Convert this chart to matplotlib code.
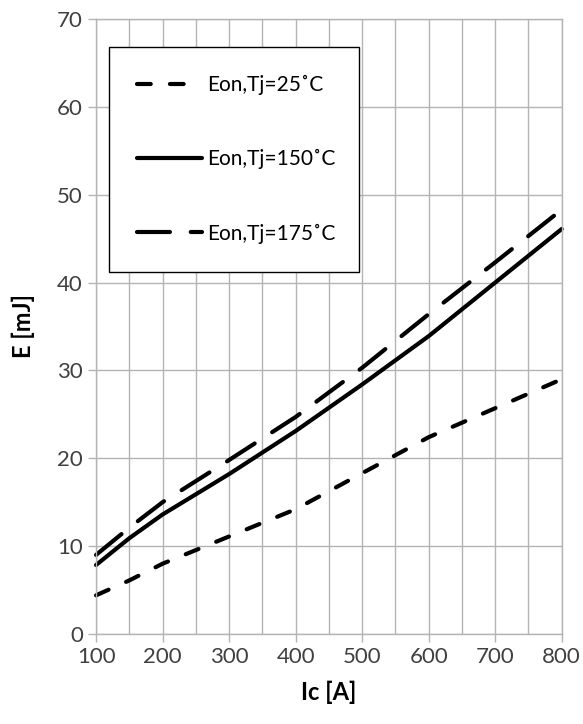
import matplotlib
matplotlib.use("Agg")
import matplotlib.pyplot as plt
from matplotlib.ticker import MultipleLocator

plt.rcParams['font.family'] = ['Lato', 'DejaVu Sans']

ic = [100, 150, 200, 300, 400, 500, 600, 700, 800]
eon_25 = [4.4, 6.1, 8.0, 11.1, 14.2, 18.3, 22.4, 25.7, 29.0]
eon_150 = [7.85, 10.9, 13.6, 18.2, 23.1, 28.4, 33.9, 40.0, 46.1]
eon_175 = [9.0, 12.1, 15.0, 19.8, 24.7, 30.3, 36.4, 42.3, 48.3]
labels = ["Eon,Tj=25˚C", "Eon,Tj=150˚C", "Eon,Tj=175˚C"]
xticks = [100, 200, 300, 400, 500, 600, 700, 800]
yticks = [0, 10, 20, 30, 40, 50, 60, 70]

fig = plt.figure(figsize=(5.83, 7.24), dpi=100)
ax = fig.add_axes([0.1647, 0.1243, 0.7988, 0.8495])

grid_c = '#b4b4b4'
ax.set_xlim(100, 800)
ax.set_ylim(0, 70)
ax.xaxis.set_minor_locator(MultipleLocator(50))
ax.set_xticks(xticks)
ax.set_yticks(yticks)
ax.grid(True, which='both', axis='x', color=grid_c, lw=1)
ax.grid(True, which='major', axis='y', color=grid_c, lw=1)
ax.tick_params(which='minor', length=0)
ax.tick_params(which='major', length=6, width=1, color=grid_c, labelsize=16,
               labelcolor='#404040', direction='out')
for s in ax.spines.values():
    s.set_color(grid_c)
    s.set_linewidth(1)
ax.set_axisbelow(True)

lw = 3
l1, = ax.plot(ic, eon_25, color='black', lw=lw, dashes=(3.3, 4.6), dash_capstyle='round', label=labels[0])
l2, = ax.plot(ic, eon_150, color='black', lw=lw, solid_capstyle='round', label=labels[1])
l3, = ax.plot(ic, eon_175, color='black', lw=lw, dashes=(7.9, 5.0), dash_capstyle='round', label=labels[2])
for l in (l1, l2, l3):
    l.set_clip_on(False)

ax.set_xlabel("Ic [A]", fontsize=17, fontweight='bold', labelpad=10)
ax.set_ylabel("E [mJ]", fontsize=17, fontweight='bold', labelpad=16)

leg = ax.legend(handles=[l1, l2, l3], loc='upper left',
                bbox_to_anchor=(0.028, 0.955, 0.537, 0.0), mode='expand',
                fontsize=15, frameon=True, fancybox=False, shadow=False,
                handlelength=3.1, handletextpad=0.25, labelspacing=2.6,
                borderpad=1.35, borderaxespad=0.0)
leg.get_frame().set_edgecolor('black')
leg.get_frame().set_linewidth(1)
leg.get_frame().set_alpha(1)

fig.savefig("out.png", dpi=100)
